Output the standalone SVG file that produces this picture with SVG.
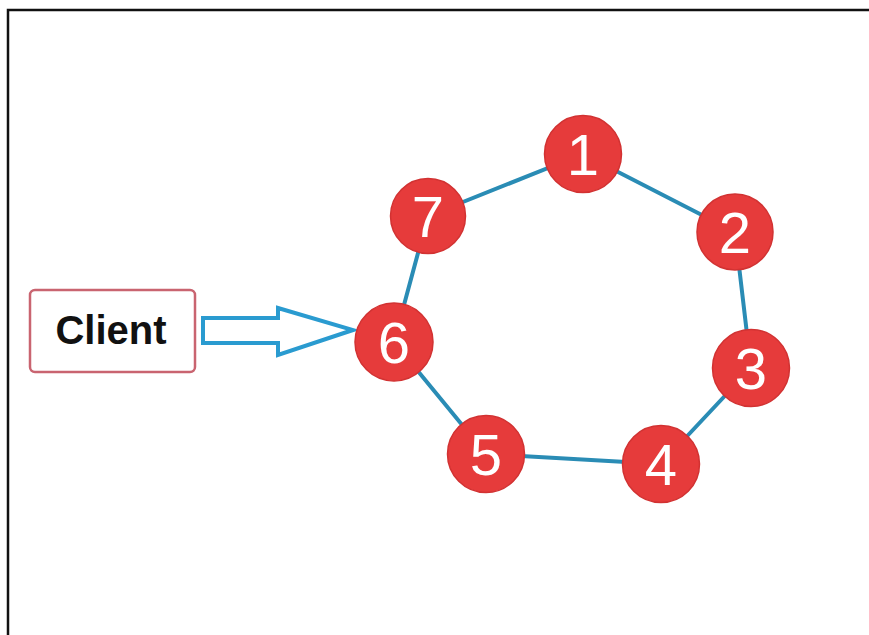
<svg xmlns="http://www.w3.org/2000/svg" width="869" height="635" viewBox="0 0 869 635">
<style>
.node circle{fill:#e63b3b;stroke:#d23232;stroke-width:1.5}
.node text{fill:#fff;font-family:"Liberation Sans",Arial,sans-serif;font-size:58px;text-anchor:middle}
.conn line{stroke:#2a8cb5;stroke-width:4;stroke-linecap:round}
</style>
<rect x="0" y="0" width="869" height="635" fill="#fff"/>
<path d="M8 635 V10 H869" fill="none" stroke="#111" stroke-width="2.5"/>
<g class="conn" id="connectors">
<line x1="428" y1="216" x2="583" y2="154"/>
<line x1="583" y1="154" x2="735" y2="232"/>
<line x1="735" y1="232" x2="751" y2="368"/>
<line x1="751" y1="368" x2="661" y2="464"/>
<line x1="661" y1="464" x2="486" y2="454"/>
<line x1="486" y1="454" x2="394" y2="342"/>
<line x1="394" y1="342" x2="428" y2="216"/>
<path d="M203 318 H278 V308 L353 330 L278 355 V343 H203 Z" fill="#fff" stroke="#2a9bd0" stroke-width="4" stroke-linejoin="miter"/>
</g>
<g id="client">
<rect x="30" y="290" width="165" height="82" rx="5" fill="#fff" stroke="#c96470" stroke-width="2.5"/>
<text x="111" y="344" font-family="Liberation Sans,Arial,sans-serif" font-weight="bold" font-size="40" text-anchor="middle" fill="#111">Client</text>
</g>
<g class="node" id="n1"><circle cx="583" cy="154" r="38.5"/><text x="583" y="175">1</text></g>
<g class="node" id="n2"><circle cx="735" cy="232" r="38"/><text x="735" y="253">2</text></g>
<g class="node" id="n3"><circle cx="751" cy="368" r="38.5"/><text x="751" y="389">3</text></g>
<g class="node" id="n4"><circle cx="661" cy="464" r="38.5"/><text x="661" y="485">4</text></g>
<g class="node" id="n5"><circle cx="486" cy="454" r="38.5"/><text x="486" y="475">5</text></g>
<g class="node" id="n6"><circle cx="394" cy="342" r="39"/><text x="394" y="363">6</text></g>
<g class="node" id="n7"><circle cx="428" cy="216" r="37.5"/><text x="428" y="237">7</text></g>
</svg>
